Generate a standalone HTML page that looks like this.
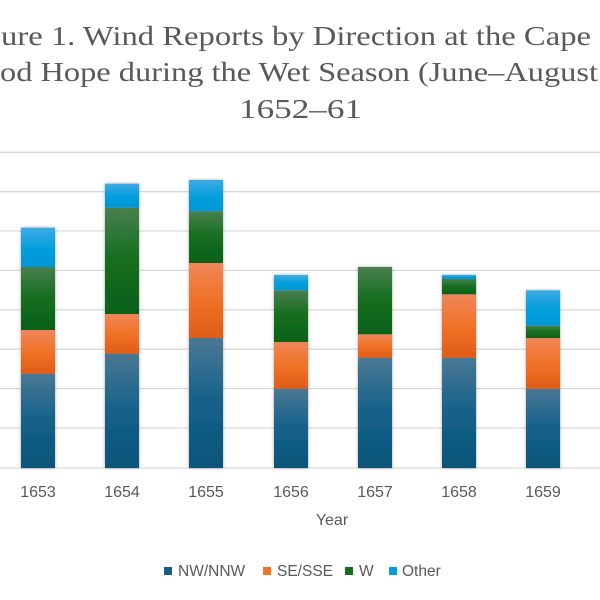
<!DOCTYPE html>
<html><head><meta charset="utf-8"><style>
html,body{margin:0;padding:0;background:#fff;width:600px;height:600px;overflow:hidden}
</style></head><body>
<svg width="600" height="600" viewBox="0 0 600 600" xmlns="http://www.w3.org/2000/svg">
<defs>
<linearGradient id="gb" x1="0" y1="0" x2="0" y2="1"><stop offset="0" stop-color="#4a7894"/><stop offset="0.5" stop-color="#14618a"/><stop offset="1" stop-color="#0b5479"/></linearGradient>
<linearGradient id="go" x1="0" y1="0" x2="0" y2="1"><stop offset="0" stop-color="#ef8659"/><stop offset="0.5" stop-color="#f07226"/><stop offset="1" stop-color="#df5c17"/></linearGradient>
<linearGradient id="gg" x1="0" y1="0" x2="0" y2="1"><stop offset="0" stop-color="#4a7f4e"/><stop offset="0.5" stop-color="#136e1e"/><stop offset="1" stop-color="#0f6019"/></linearGradient>
<linearGradient id="gl" x1="0" y1="0" x2="0" y2="1"><stop offset="0" stop-color="#3fabe2"/><stop offset="0.5" stop-color="#069fdc"/><stop offset="1" stop-color="#0097d6"/></linearGradient>
<filter id="sh" x="-20%" y="-5%" width="140%" height="110%"><feGaussianBlur in="SourceAlpha" stdDeviation="1.5"/><feOffset dx="0" dy="0"/><feComponentTransfer><feFuncA type="linear" slope="0.35"/></feComponentTransfer><feMerge><feMergeNode/><feMergeNode in="SourceGraphic"/></feMerge></filter>
</defs>
<g font-family="Liberation Serif, serif" font-size="27" fill="#595959">
<text x="0" y="45" text-anchor="end">Fig</text>
<text x="1" y="45" textLength="590" lengthAdjust="spacingAndGlyphs">ure 1. Wind Reports by Direction at the Cape</text>
<text x="0" y="81" textLength="598" lengthAdjust="spacingAndGlyphs">od Hope during the Wet Season (June–August</text>
<text x="239" y="118" textLength="123" lengthAdjust="spacingAndGlyphs">1652–61</text>
</g>
<g stroke="#d9d9d9" stroke-width="1.3">
<line x1="0" x2="600" y1="152.3" y2="152.3"/><line x1="0" x2="600" y1="191.7" y2="191.7"/>
<line x1="0" x2="600" y1="231" y2="231"/><line x1="0" x2="600" y1="270.4" y2="270.4"/>
<line x1="0" x2="600" y1="309.8" y2="309.8"/><line x1="0" x2="600" y1="349.2" y2="349.2"/>
<line x1="0" x2="600" y1="388.6" y2="388.6"/><line x1="0" x2="600" y1="428" y2="428"/>
<line x1="0" x2="600" y1="468" y2="468"/>
</g>
<g filter="url(#sh)">
<!-- 1653 -->
<rect x="21" y="373.7" width="34" height="94.3" fill="url(#gb)"/><rect x="21" y="330" width="34" height="43.7" fill="url(#go)"/><rect x="21" y="267" width="34" height="63" fill="url(#gg)"/><rect x="21" y="227.7" width="34" height="39.3" fill="url(#gl)"/>
<!-- 1654 -->
<rect x="105" y="353.7" width="34" height="114.3" fill="url(#gb)"/><rect x="105" y="314" width="34" height="39.7" fill="url(#go)"/><rect x="105" y="207.7" width="34" height="106.3" fill="url(#gg)"/><rect x="105" y="183.7" width="34" height="24" fill="url(#gl)"/>
<!-- 1655 -->
<rect x="189" y="338" width="34" height="130" fill="url(#gb)"/><rect x="189" y="263" width="34" height="75" fill="url(#go)"/><rect x="189" y="211.3" width="34" height="51.7" fill="url(#gg)"/><rect x="189" y="180" width="34" height="31.3" fill="url(#gl)"/>
<!-- 1656 -->
<rect x="274" y="388.7" width="34" height="79.3" fill="url(#gb)"/><rect x="274" y="342" width="34" height="46.7" fill="url(#go)"/><rect x="274" y="290.3" width="34" height="51.7" fill="url(#gg)"/><rect x="274" y="275" width="34" height="15.3" fill="url(#gl)"/>
<!-- 1657 -->
<rect x="358" y="357.7" width="34" height="110.3" fill="url(#gb)"/><rect x="358" y="334.3" width="34" height="23.4" fill="url(#go)"/><rect x="358" y="267" width="34" height="67.3" fill="url(#gg)"/>
<!-- 1658 -->
<rect x="442" y="357.7" width="34" height="110.3" fill="url(#gb)"/><rect x="442" y="294.3" width="34" height="63.4" fill="url(#go)"/><rect x="442" y="279" width="34" height="15.3" fill="url(#gg)"/><rect x="442" y="275" width="34" height="4" fill="url(#gl)"/>
<!-- 1659 -->
<rect x="526" y="388.7" width="34" height="79.3" fill="url(#gb)"/><rect x="526" y="338" width="34" height="50.7" fill="url(#go)"/><rect x="526" y="325.7" width="34" height="12.3" fill="url(#gg)"/><rect x="526" y="290.3" width="34" height="35.4" fill="url(#gl)"/>
</g>
<g font-family="Liberation Sans, sans-serif" font-size="16" fill="#595959" text-anchor="middle">
<text x="38" y="497">1653</text><text x="122" y="497">1654</text><text x="206" y="497">1655</text>
<text x="291" y="497">1656</text><text x="375" y="497">1657</text><text x="459" y="497">1658</text>
<text x="543" y="497">1659</text>
<text x="332" y="525">Year</text>
</g>
<g font-family="Liberation Sans, sans-serif" font-size="15.5" fill="#595959">
<rect x="164" y="567" width="8" height="8" fill="#155f87"/><text x="178" y="576">NW/NNW</text>
<rect x="263" y="567" width="8" height="8" fill="#f07226"/><text x="277" y="576">SE/SSE</text>
<rect x="345" y="567" width="8" height="8" fill="#136e1e"/><text x="359" y="576">W</text>
<rect x="389" y="567" width="8" height="8" fill="#069fdc"/><text x="402" y="576">Other</text>
</g>
</svg>
</body></html>
